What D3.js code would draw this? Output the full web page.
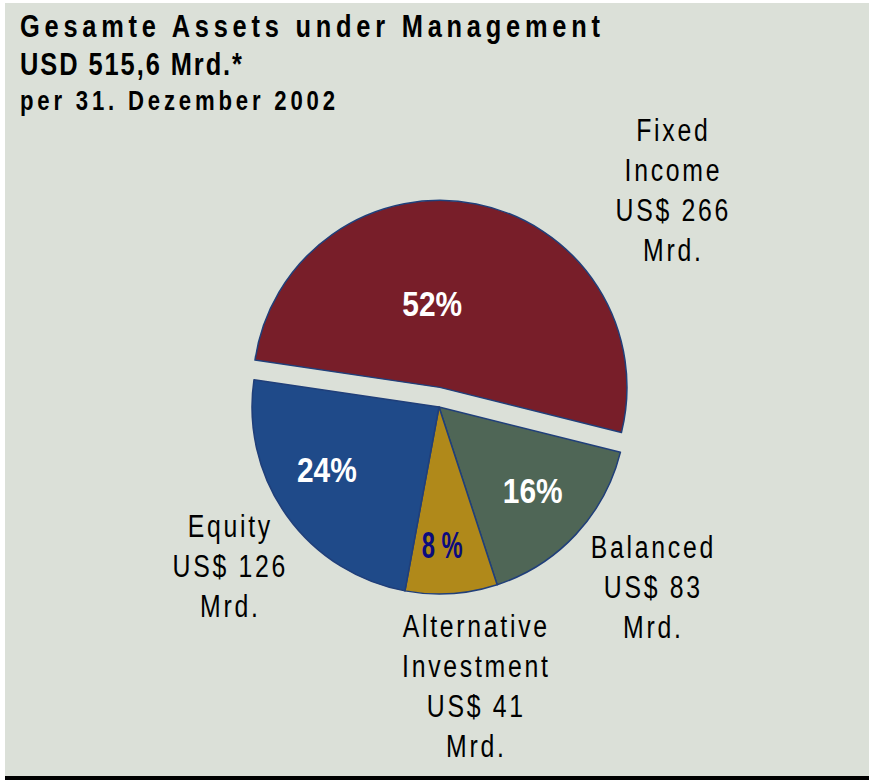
<!DOCTYPE html>
<html>
<head>
<meta charset="utf-8">
<script src="https://cdn.jsdelivr.net/npm/d3@7"></script>
<style>
  body { margin: 0; background: #fff; }
  svg { display: block; }
</style>
</head>
<body>
<div id="chart"></div>
<script>
// data
var categories = ["Fixed Income", "Balanced", "Alternative Investment", "Equity"];
var values = [266, 83, 41, 126];   // USD Mrd.
var titleLines = ["Gesamte Assets under Management", "USD 515,6 Mrd.*", "per 31. Dezember 2002"];

var width = 869, height = 780;
var colors = ["#781e29", "#4f6656", "#b0891a", "#1f4a89"];
var sans = "'Liberation Sans', Arial, sans-serif";

var svg = d3.select("#chart")
  .append("svg")
    .attr("width", width)
    .attr("height", height);

// background panel + bottom rule
svg.append("rect")
  .attr("x", 5).attr("y", 3)
  .attr("width", width - 5).attr("height", 773)
  .attr("fill", "#dbe0d8");
svg.append("rect")
  .attr("x", 5).attr("y", 776)
  .attr("width", width - 5).attr("height", 4)
  .attr("fill", "#000");

// title block (Arial squeezed horizontally to get the narrow look)
var titleY = [37, 75, 110], titleSize = [31, 31, 27], titleLen = [580, 222, 315];
var sxTitle = 0.82;
svg.selectAll("text.title")
  .data(titleLines)
  .enter()
  .append("text")
    .attr("class", "title")
    .attr("transform", function(d, i) { return "translate(20," + titleY[i] + ") scale(" + sxTitle + ",1)"; })
    .attr("textLength", function(d, i) { return titleLen[i] / sxTitle; })
    .attr("lengthAdjust", "spacing")
    .style("font-family", sans)
    .style("font-weight", "bold")
    .style("font-size", function(d, i) { return titleSize[i] + "px"; })
    .style("fill", "#000")
    .text(function(d) { return d; });

// pie
var cx = 439, cy = 407, radius = 187, explode = 20;
var total = d3.sum(values);

var pie = d3.pie()
  .sort(null)
  .startAngle(-81.6 * Math.PI / 180)
  .endAngle((360 - 81.6) * Math.PI / 180);

var arcs = pie(values);
var arc = d3.arc().innerRadius(0).outerRadius(radius);

// only Fixed Income is pulled out, almost straight up
function shift(d) {
  if (d.index !== 0) return [0, 0];
  var a = (d.startAngle + d.endAngle) / 2;
  return [explode * Math.sin(a) * 0.25, -explode * Math.cos(a)];
}

var g = svg.append("g")
  .attr("transform", "translate(" + cx + "," + cy + ")");

g.selectAll("path.slice")
  .data(arcs)
  .enter()
  .append("path")
    .attr("class", "slice")
    .attr("transform", function(d) { return "translate(" + shift(d) + ")"; })
    .attr("d", arc)
    .attr("fill", function(d, i) { return colors[i]; })
    .attr("stroke", "#203f7a")
    .attr("stroke-width", 1.5)
    .attr("stroke-linejoin", "round");

// percentage labels inside the slices
var pctArc = d3.arc().innerRadius(128).outerRadius(128);
var pctArcBig = d3.arc().innerRadius(84).outerRadius(84);
var pctNudge = [[-24, -2], [0, -4], [-2, 10], [-8, -12]];

g.selectAll("text.pct")
  .data(arcs)
  .enter()
  .append("text")
    .attr("class", "pct")
    .attr("transform", function(d) {
      var c = (d.index === 0 ? pctArcBig : pctArc).centroid(d);
      var s = shift(d);
      var sx = d.index === 2 ? 0.66 : 0.83;
      return "translate(" + (c[0] + s[0] + pctNudge[d.index][0]) + "," + (c[1] + s[1] + pctNudge[d.index][1]) + ") scale(" + sx + ",1)";
    })
    .attr("dy", "0.36em")
    .attr("text-anchor", "middle")
    .style("font-family", sans)
    .style("font-weight", "bold")
    .style("font-size", "36px")
    .style("letter-spacing", function(d) { return d.index === 2 ? "10px" : "0px"; })
    .style("fill", function(d) { return d.index === 2 ? "#0b0b7e" : "#fff"; })
    .text(function(d) { return Math.round(d.value / total * 100) + "%"; });

// outer category labels
var outerArc = d3.arc().innerRadius(275).outerRadius(275);
var outerNudge = [[180, 72], [13, -7], [19, 5], [15, -1]];
var lineH = 40;

var labels = g.selectAll("g.outer")
  .data(arcs)
  .enter()
  .append("g")
    .attr("class", "outer")
    .attr("transform", function(d) {
      var c = outerArc.centroid(d);
      var s = shift(d);
      return "translate(" + (c[0] + s[0] + outerNudge[d.index][0]) + "," + (c[1] + s[1] + outerNudge[d.index][1]) + ")";
    });

labels.each(function(d) {
  var lines = categories[d.index].split(" ").concat(["US$ " + d.value, "Mrd."]);
  d3.select(this).selectAll("text")
    .data(lines)
    .enter()
    .append("text")
      .attr("transform", function(t, i) {
        return "translate(0," + ((i - (lines.length - 1) / 2) * lineH + 11) + ") scale(0.8,1)";
      })
      .attr("text-anchor", "middle")
      .style("font-family", sans)
      .style("font-size", "31px")
      .style("letter-spacing", "3.4px")
      .style("fill", "#000")
      .text(function(t) { return t; });
});
</script>
</body>
</html>
